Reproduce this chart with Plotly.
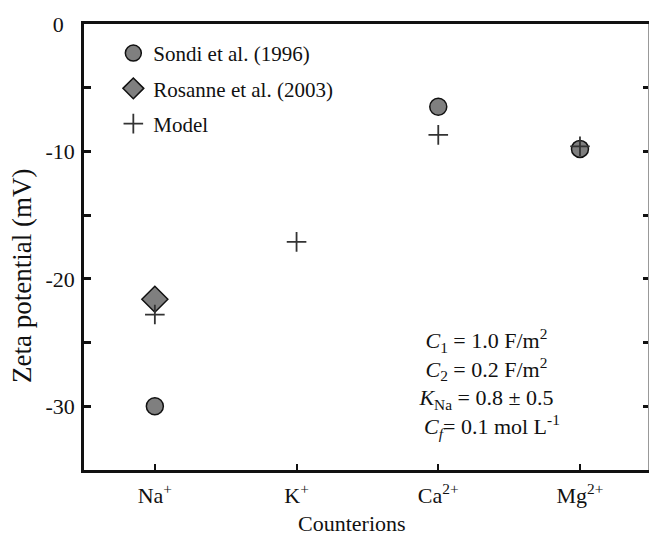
import plotly.graph_objects as go

categories = ["Na+", "K+", "Ca2+", "Mg2+"]
cat_pos = [1, 2, 3, 4]
cat_labels = ["Na<sup>+</sup>", "K<sup>+</sup>", "Ca<sup>2+</sup>", "Mg<sup>2+</sup>"]

sondi_x = [1, 3, 4]
sondi_y = [-30.0, -6.5, -9.8]

rosanne_x = [1]
rosanne_y = [-21.6]

model_x = [1, 2, 3, 4]
model_y = [-22.8, -17.1, -8.7, -9.6]

y_ticks = [0, -10, -20, -30]
y_ticktext = ["0\u2002", "-10", "-20", "-30"]

FONT = "Liberation Serif"

fig = go.Figure()
fig.add_trace(go.Scatter(
    x=sondi_x, y=sondi_y, mode="markers", name="Sondi et al. (1996)",
    legendgroup="a",
    marker=dict(symbol="circle", size=17, color="#7f7f7f",
                line=dict(color="#111", width=1.5)),
))
fig.add_trace(go.Scatter(
    x=rosanne_x, y=rosanne_y, mode="markers", name="Rosanne et al. (2003)",
    legendgroup="b",
    marker=dict(symbol="diamond", size=20, color="#7f7f7f",
                line=dict(color="#111", width=1.5)),
))
fig.add_trace(go.Scatter(
    x=model_x, y=model_y, mode="markers", name="Model",
    legendgroup="c",
    marker=dict(symbol="cross-thin", size=14, color="#333",
                line=dict(color="#333", width=1.8)),
))
# helper trace so the mirrored right axis is drawn
fig.add_trace(go.Scatter(x=[None], y=[None], yaxis="y2", showlegend=False,
                         hoverinfo="skip"))

fig.update_layout(
    width=649, height=535,
    margin=dict(l=84, r=1, t=24, b=65),
    paper_bgcolor="white", plot_bgcolor="white",
    font=dict(family=FONT, size=21, color="#111"),
    showlegend=True,
    legend=dict(
        x=0.052, y=0.98, xanchor="left", yanchor="top",
        bgcolor="rgba(0,0,0,0)", borderwidth=0,
        font=dict(family=FONT, size=21, color="#111"),
        traceorder="grouped", tracegroupgap=5,
    ),
    xaxis=dict(
        range=[0.5, 4.48], tickvals=cat_pos, ticktext=cat_labels,
        ticks="inside", ticklen=6, tickwidth=2, tickcolor="#111",
        showline=True, linewidth=2.5, linecolor="#111", mirror=True,
        showgrid=False, zeroline=False,
        tickfont=dict(family=FONT, size=22, color="#111"),
        ticklabelstandoff=4,
    ),
    yaxis=dict(
        range=[-35, 0], tickvals=y_ticks, ticktext=y_ticktext,
        ticks="inside", ticklen=7, tickwidth=2.5, tickcolor="#111",
        minor=dict(tickvals=[-5, -15, -25], ticks="inside", ticklen=7,
                   tickwidth=2.5, tickcolor="#111", showgrid=False),
        showline=True, linewidth=2.5, linecolor="#111",
        showgrid=False, zeroline=False,
        tickfont=dict(family=FONT, size=22, color="#111"),
        ticklabelstandoff=2,
    ),
    yaxis2=dict(
        range=[-35, 0], overlaying="y", side="right",
        tickvals=[0, -5, -10, -15, -20, -25, -30], showticklabels=False,
        ticks="inside", ticklen=5, tickwidth=2.5, tickcolor="#111",
        showline=True, linewidth=1, linecolor="#999",
        showgrid=False, zeroline=False,
    ),
    annotations=[
        dict(text="Zeta potential (mV)", textangle=-90,
             xref="paper", yref="paper",
             x=(22 - 84) / 564, y=(470 - 276) / 446,
             xanchor="center", yanchor="middle", showarrow=False,
             font=dict(family=FONT, size=27, color="#111")),
        dict(text="Counterions",
             xref="paper", yref="paper",
             x=(352 - 84) / 564, y=-(523 - 470) / 446,
             xanchor="center", yanchor="middle", showarrow=False,
             font=dict(family=FONT, size=22, color="#111")),
        dict(text=("<i>C</i><sub>1</sub> = 1.0 F/m<sup>2</sup><br>"
                   "<i>C</i><sub>2</sub> = 0.2 F/m<sup>2</sup><br>"
                   "<i>K</i><sub>Na</sub> = 0.8 ± 0.5<br>"
                   "&nbsp;&nbsp;<i>C<sub>f</sub></i>= 0.1 mol L<sup>-1</sup>"),
             xref="paper", yref="paper",
             x=(487 - 84) / 564, y=(470 - 383) / 446,
             xanchor="center", yanchor="middle", align="center",
             showarrow=False,
             font=dict(family=FONT, size=22, color="#111")),
    ],
)

fig.write_html(
    "out.html",
    config={"displayModeBar": False},
    post_script="document.body.style.margin='0';document.body.style.overflow='hidden';",
)
